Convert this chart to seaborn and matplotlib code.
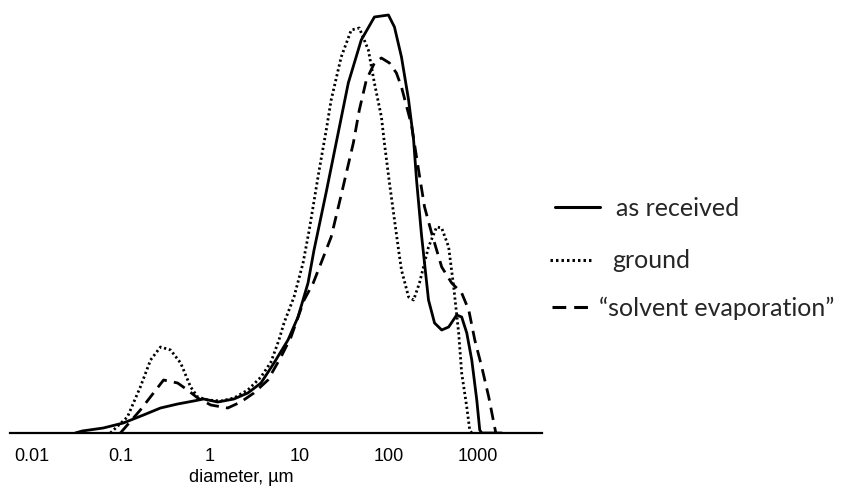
import matplotlib
matplotlib.use("Agg")
import matplotlib.pyplot as plt
import seaborn as sns
import pandas as pd

# Diameters (µm) and relative volume frequency (arbitrary units)
d_received = [0.031, 0.0371, 0.0639, 0.107, 0.180, 0.279, 0.434, 0.656, 0.849, 1.22, 1.85, 2.65,
              3.72, 5.20, 7.46, 9.66, 12.5, 14.6, 20.0, 27.2, 35.3, 49.3, 69.2, 99.3, 116, 139, 167,
              190, 205, 233, 279, 326, 392, 469, 577, 656, 748, 851, 968, 1045, 1101, 1846]
v_received = [0, 2, 5, 10, 18, 25, 29, 32, 34, 31, 34, 40, 50, 70, 93, 116, 150, 183, 241, 300, 350,
              393, 416, 418, 406, 376, 333, 293, 253, 198, 133, 110, 103, 106, 118, 116, 100, 73, 33,
              3, 0, 0]

d_ground = [0.0766, 0.119, 0.166, 0.216, 0.279, 0.362, 0.469, 0.607, 0.728, 0.942, 1.32, 1.85, 2.65,
            3.72, 4.81, 5.91, 6.73, 8.71, 11.0, 12.9, 16.6, 20.0, 22.7, 29.4, 38.1, 46.9, 59.2, 69.2,
            82.9, 89.5, 102, 129, 139, 167, 190, 221, 279, 344, 392, 469, 534, 607, 656, 748, 807, 851]
v_ground = [0, 16, 46, 73, 86, 83, 70, 46, 36, 33, 32, 35, 43, 56, 71, 93, 110, 136, 170, 203, 262,
            303, 333, 376, 403, 405, 383, 350, 316, 290, 250, 183, 163, 136, 133, 150, 186, 206, 205,
            186, 146, 100, 60, 26, 3, 0]

d_solvent = [0.0993, 0.166, 0.233, 0.302, 0.434, 0.561, 0.728, 1.02, 1.58, 2.21, 3.10, 4.45, 6.22,
             8.07, 11.3, 14.3, 17.5, 22.7, 29.4, 40.2, 46.9, 56.2, 69.2, 82.9, 102, 122, 139, 180,
             216, 252, 302, 392, 507, 656, 787, 920, 1101, 1318, 1503, 1581]
v_solvent = [0, 23, 40, 53, 50, 43, 35, 28, 25, 31, 40, 53, 76, 96, 133, 150, 170, 196, 238, 290, 323,
             353, 370, 375, 370, 360, 346, 308, 263, 226, 200, 166, 150, 140, 123, 93, 66, 36, 10, 0]

series_names = ["as received", "ground", "\u201csolvent evaporation\u201d"]
tick_values = [0.01, 0.1, 1, 10, 100, 1000]
tick_labels = ["0.01", "0.1", "1", "10", "100", "1000"]
x_label = "diameter, \u00b5m"

frames = []
for name, d, v in zip(series_names, [d_received, d_ground, d_solvent],
                      [v_received, v_ground, v_solvent]):
    frames.append(pd.DataFrame({"diameter": d, "volume": v, "sample": name}))
df = pd.concat(frames, ignore_index=True)

sns.set_theme(style="white")
plt.rcParams["font.family"] = ["Liberation Sans", "DejaVu Sans"]

fig = plt.figure(figsize=(8.53, 4.90), dpi=100)
ax = fig.add_axes([10 / 853, 1 - 433 / 490, 532 / 853, 423 / 490])

sns.lineplot(data=df, x="diameter", y="volume", hue="sample", style="sample",
             palette={n: "black" for n in series_names},
             dashes={series_names[0]: "", series_names[1]: (0.8, 1.0), series_names[2]: (4.5, 2.6)},
             linewidth=2.0, sort=False, estimator=None, ax=ax)

ax.set_xscale("log")
ax.set_xlim(0.00577, 5200)
ax.set_ylim(0, 423)
ax.set_xticks(tick_values)
ax.set_xticklabels(tick_labels)
ax.minorticks_off()
ax.tick_params(axis="x", length=0, pad=11, labelsize=13, colors="black")
ax.set_yticks([])
ax.set_ylabel("")
ax.set_xlabel(x_label, fontsize=13, color="black")
ax.xaxis.set_label_coords(0.434, -0.085)
for s in ["left", "right", "top"]:
    ax.spines[s].set_visible(False)
ax.spines["bottom"].set_color("black")
ax.spines["bottom"].set_linewidth(1.6)
ax.patch.set_alpha(0)

handles, labels = ax.get_legend_handles_labels()
ax.get_legend().remove()

# one legend row per entry, positioned like the reference
rows = [
    (555, 208, 1.8, 0.66),   # handle left px, row centre px, handle length, text pad
    (550, 261, 1.72, 0.76),
    (552, 308, 1.52, 0.38),
]
for h, lab, (x0, yc, hl, tp) in zip(handles, labels, rows):
    leg = fig.legend([h], [lab], loc="center left", bbox_to_anchor=(x0 / 853, 1 - yc / 490),
                     frameon=False, handlelength=hl, handletextpad=tp, borderpad=0,
                     borderaxespad=0, prop={"family": ["Lato", "DejaVu Sans"], "size": 18})
    for line in leg.get_lines():
        line.set_linewidth(2.2)

fig.savefig("out.png", dpi=100)
